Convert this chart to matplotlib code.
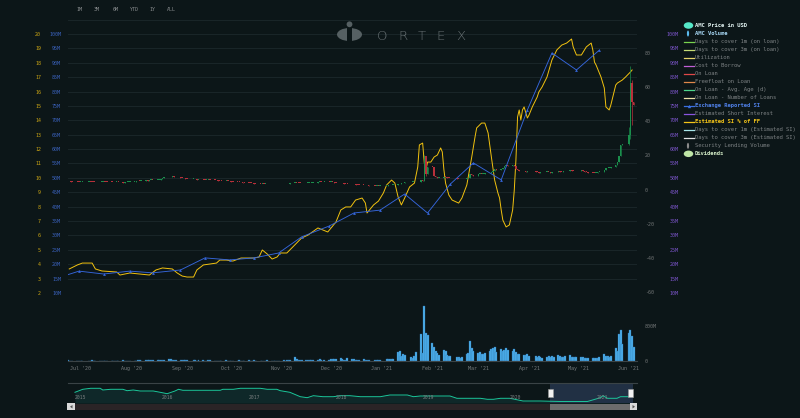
import matplotlib
matplotlib.use('Agg')
import matplotlib.pyplot as plt
import matplotlib.dates as mdates
from matplotlib.patches import Rectangle, Circle, Ellipse, Polygon
from matplotlib.lines import Line2D
import numpy as np
import pandas as pd

# ---------------- data ----------------
holidays = ['2020-07-03', '2020-09-07', '2020-11-26', '2020-12-25', '2021-01-01',
            '2021-01-18', '2021-02-15', '2021-04-02', '2021-05-31']

close_jun20 = [4.9, 4.8, 4.7, 4.6, 4.5, 4.4]
close_jul20 = [4.4, 4.5, 4.6, 4.5, 4.4, 4.3, 4.2, 4.3, 4.4, 4.6, 4.5, 4.4, 4.3, 4.2, 4.4, 4.5,
               4.3, 4.1, 4.2, 4.3, 4.4, 4.4]
close_aug20 = [4.6, 4.8, 5.0, 4.9, 5.2, 5.4, 5.3, 5.6, 5.8, 5.6, 5.7, 5.9, 6.2, 6.8, 7.4, 7.1,
               7.6, 7.9, 7.3, 7.1, 7.0]
close_sep20 = [6.8, 6.5, 6.2, 6.1, 6.2, 6.0, 5.8, 5.9, 5.7, 5.6, 5.8, 5.9, 5.7, 5.5, 5.4, 5.3,
               5.2, 5.0, 5.0, 4.9, 4.8]
close_oct20 = [4.7, 4.6, 4.5, 4.4, 4.2, 4.0, 3.9, 3.8, 3.7, 3.6, 3.5, 3.4, 3.3, 3.3, 3.2, 3.2,
               3.1, 3.0, 3.1, 3.0, 3.1, 3.2]
close_nov20 = [3.1, 3.0, 3.1, 3.3, 3.7, 4.1, 3.9, 3.8, 3.7, 3.6, 3.7, 3.8, 3.9, 4.0, 4.1, 4.3,
               4.5, 4.4, 4.6, 4.4]
close_dec20 = [4.5, 4.3, 4.0, 3.8, 3.6, 3.7, 3.5, 3.4, 3.3, 3.1, 3.0, 2.9, 2.8, 2.7, 2.6, 2.5,
               2.4, 2.3, 2.2, 2.2, 2.1, 2.1]
close_jan21 = [2.3, 2.4, 2.5, 2.6, 2.7, 3.0, 3.4, 3.6, 3.9, 4.2, 4.3, 4.4, 4.2, 4.5, 5.5, 5.0,
               19.9, 9.0, 13.5]
close_feb21 = [13.3, 7.8, 7.1, 6.8, 7.0, 7.5, 7.3, 7.0, 6.8, 6.6, 6.3, 6.2, 6.0, 6.1, 6.5, 7.0,
               9.0, 8.6, 8.0]
close_mar21 = [9.0, 9.2, 9.0, 9.3, 9.5, 10.0, 10.5, 11.0, 11.8, 11.5, 12.0, 12.5, 13.8, 14.3,
               14.1, 14.2, 13.6, 12.0, 11.2, 10.9, 10.6, 10.5, 10.8]
close_apr21 = [10.6, 10.4, 10.3, 10.0, 10.1, 10.3, 10.5, 10.2, 10.0, 10.1, 10.4, 10.7, 10.5,
               10.3, 10.6, 11.1, 11.4, 11.0, 10.8, 10.7, 10.6]
close_may21 = [11.3, 11.0, 10.5, 10.2, 10.0, 9.8, 9.6, 9.8, 10.2, 10.5, 11.5, 12.4, 12.6, 12.8,
               13.0, 14.5, 16.2, 19.6, 26.1, 26.5]
close_jun21 = [32.0, 62.6, 51.3, 49.3]

wick_override = {'2021-01-27': (20.4, 4.9), '2021-01-28': (16.5, 8.0), '2021-06-01': (36.7, 26.0),
                 '2021-06-02': (72.6, 29.5), '2021-06-03': (64.0, 38.0)}

vol_jun20 = [12, 10, 9, 11, 8, 9]
vol_jul20 = [10, 9, 8, 10, 12, 9, 8, 9, 8, 11, 9, 8, 9, 10, 8, 7, 9, 12, 10, 8, 9, 8]
vol_aug20 = [9, 10, 14, 12, 11, 13, 12, 15, 14, 18, 13, 17, 25, 30, 22, 40, 35, 28, 20, 18, 16]
vol_sep20 = [17, 15, 13, 14, 12, 13, 11, 15, 12, 10, 11, 13, 12, 10, 9, 11, 10, 9, 12, 10, 9]
vol_oct20 = [10, 11, 9, 12, 10, 9, 11, 14, 10, 9, 12, 10, 9, 8, 11, 10, 12, 9, 10, 11, 9, 10]
vol_nov20 = [12, 10, 14, 16, 28, 90, 40, 30, 25, 22, 20, 18, 24, 26, 22, 30, 35, 25, 28, 20]
vol_dec20 = [40, 35, 55, 45, 60, 38, 30, 28, 70, 50, 35, 30, 32, 28, 45, 30, 25, 22, 20, 24, 18, 20]
vol_jan21 = [35, 40, 50, 45, 55, 200, 230, 110, 170, 130, 100, 80, 110, 200, 620, 180, 1250, 640,
             600]
vol_feb21 = [420, 330, 230, 180, 140, 250, 220, 140, 120, 110, 100, 85, 80, 85, 160, 190, 460,
             300, 220]
vol_mar21 = [190, 210, 150, 160, 180, 240, 270, 290, 330, 200, 280, 240, 260, 300, 250, 230, 270,
             200, 170, 160, 140, 130, 150]
vol_apr21 = [120, 110, 95, 110, 85, 80, 95, 120, 100, 105, 90, 130, 110, 85, 95, 120, 140, 100,
             90, 85, 95]
vol_may21 = [100, 90, 80, 75, 70, 65, 60, 70, 80, 95, 150, 120, 110, 100, 115, 300, 230, 620, 720,
             400]
vol_jun21 = [640, 720, 580, 330]

# Estimated SI % of free float (yellow)
si_dates = ['2020-06-24', '2020-06-29', '2020-07-02', '2020-07-08', '2020-07-10', '2020-07-14',
            '2020-07-23', '2020-07-25', '2020-07-31', '2020-08-06', '2020-08-12', '2020-08-16',
            '2020-08-20', '2020-08-26', '2020-08-29', '2020-09-01', '2020-09-04', '2020-09-08',
            '2020-09-10', '2020-09-14', '2020-09-22', '2020-09-24', '2020-09-28', '2020-10-02',
            '2020-10-07', '2020-10-15', '2020-10-18', '2020-10-20', '2020-10-23', '2020-10-26',
            '2020-10-29', '2020-10-31', '2020-11-04', '2020-11-07', '2020-11-10', '2020-11-13',
            '2020-11-17', '2020-11-23', '2020-11-29', '2020-12-04', '2020-12-07', '2020-12-10',
            '2020-12-13', '2020-12-16', '2020-12-20', '2020-12-22', '2020-12-23', '2020-12-27',
            '2020-12-30', '2021-01-02', '2021-01-04', '2021-01-07', '2021-01-09', '2021-01-11',
            '2021-01-13', '2021-01-15', '2021-01-18', '2021-01-21', '2021-01-23', '2021-01-24',
            '2021-01-26', '2021-01-27', '2021-01-28', '2021-01-29', '2021-01-31', '2021-02-02',
            '2021-02-04', '2021-02-06', '2021-02-07', '2021-02-08', '2021-02-09', '2021-02-11',
            '2021-02-13', '2021-02-17', '2021-02-19', '2021-02-22', '2021-02-25', '2021-02-27',
            '2021-02-28', '2021-03-03', '2021-03-05', '2021-03-07', '2021-03-09', '2021-03-11',
            '2021-03-13', '2021-03-14', '2021-03-15', '2021-03-16', '2021-03-18', '2021-03-20',
            '2021-03-22', '2021-03-23', '2021-03-24', '2021-03-25', '2021-03-26', '2021-03-27',
            '2021-03-28', '2021-03-29', '2021-03-31', '2021-04-01', '2021-04-03', '2021-04-06',
            '2021-04-07', '2021-04-09', '2021-04-12', '2021-04-15', '2021-04-18', '2021-04-21',
            '2021-04-24', '2021-04-27', '2021-04-28', '2021-04-30', '2021-05-03', '2021-05-06',
            '2021-05-09', '2021-05-10', '2021-05-11', '2021-05-12', '2021-05-15', '2021-05-17',
            '2021-05-18', '2021-05-20', '2021-05-21', '2021-05-24', '2021-05-25', '2021-05-28',
            '2021-05-30', '2021-06-02', '2021-06-03']
si_pct = [3.67, 3.95, 4.08, 4.08, 3.67, 3.53, 3.46, 3.25, 3.39, 3.32, 3.25, 3.60, 3.74, 3.67,
          3.39, 3.18, 3.11, 3.11, 3.60, 3.95, 4.08, 4.29, 4.29, 4.22, 4.43, 4.43, 4.50, 4.99,
          4.71, 4.36, 4.50, 4.78, 4.78, 5.13, 5.47, 5.82,
          6.03, 6.52, 6.24, 6.93, 7.77, 7.98, 7.98, 8.46, 8.60, 8.25, 7.56, 8.12, 8.39,
          8.95, 9.51, 9.85, 9.64, 8.67, 8.12, 8.60, 9.37, 9.64, 10.76, 12.29, 12.42, 11.03,
          10.55, 11.10, 11.10,
          11.45, 11.59, 12.08, 11.80, 10.55, 9.64, 8.81, 8.46, 8.25, 8.60, 9.51, 11.45, 12.84,
          13.47,
          13.81, 13.81, 13.12, 11.45, 9.85, 8.95, 8.60, 7.77, 7.07, 6.59, 6.73, 7.77, 9.16,
          11.24, 14.23, 14.72, 14.02, 14.72, 14.93, 14.16,
          14.37, 14.93, 15.62, 15.97, 16.32, 17.01, 18.19, 18.89, 19.23, 19.37, 19.65, 19.10,
          18.54,
          18.54, 19.10, 19.37, 18.89, 18.05, 17.84, 17.01, 16.25, 14.93, 14.72, 15.06, 16.45,
          16.59, 16.80, 17.01, 17.36, 17.50]

# Exchange reported short interest (millions of shares)
exsi_dates = ['2020-06-15', '2020-06-30', '2020-07-15', '2020-07-31', '2020-08-14', '2020-08-31',
              '2020-09-15', '2020-09-30', '2020-10-15', '2020-10-30', '2020-11-13', '2020-11-30',
              '2020-12-15', '2020-12-31', '2021-01-15', '2021-01-29', '2021-02-12', '2021-02-26',
              '2021-03-15', '2021-03-31', '2021-04-15', '2021-04-30', '2021-05-14']
exsi_m = [14.9, 17.6, 16.6, 17.6, 17.0, 18.0, 22.2, 21.5, 22.2, 23.9, 29.5, 33.3, 37.8, 38.8,
          44.4, 37.8, 47.9, 55.2, 49.3, 73.6, 93.4, 87.5, 94.4]

# navigator (long history, decimal years)
nav_year = [2015.02, 2015.11, 2015.20, 2015.31, 2015.34, 2015.43, 2015.57, 2015.62, 2015.69,
            2015.77, 2015.92, 2016.00, 2016.08, 2016.17, 2016.21, 2016.26, 2016.46, 2016.69,
            2016.72, 2016.84, 2016.92, 2017.15, 2017.23, 2017.34, 2017.38, 2017.49, 2017.61,
            2017.69, 2017.76, 2017.87, 2017.99, 2018.07, 2018.18, 2018.30, 2018.53, 2018.64,
            2018.84, 2018.91, 2018.99, 2019.33, 2019.41, 2019.68, 2019.76, 2019.83, 2019.91,
            2020.02, 2020.17, 2020.37, 2020.60, 2020.91, 2021.06, 2021.09, 2021.14, 2021.25,
            2021.29, 2021.40]
nav_val = [21.4, 27.4, 29.4, 29.4, 26.0, 27.4, 27.4, 24.6, 26.0, 24.0, 24.0, 21.4, 18.6, 24.0,
           27.4, 25.4, 25.4, 25.4, 27.4, 27.4, 29.4, 29.4, 27.4, 27.4, 24.6, 21.4, 12.6, 10.6,
           14.6, 12.6, 12.6, 14.6, 14.6, 12.6, 12.6, 16.0, 16.0, 12.6, 14.0, 14.0, 9.4, 9.4,
           7.4, 7.4, 9.4, 9.4, 4.0, 4.0, 3.0, 3.0, 10.6, 14.6, 9.4, 9.4, 12.6, 12.6]

price_ticks = [-60, -40, -20, 0, 20, 40, 60, 80]
volume_ticks = [0, 800]
range_buttons = ['1M', '3M', '6M', 'YTD', '1Y', 'ALL']
legend_labels = ["AMC Price in USD", "AMC Volume", "Days to cover 1m (on loan)",
                 "Days to cover 3m (on loan)", "Utilization", "Cost to Borrow", "On Loan",
                 "Freefloat on Loan", "On Loan - Avg. Age (d)", "On Loan - Number of Loans",
                 "Exchange Reported SI", "Estimated Short Interest", "Estimated SI % of FF",
                 "Days to cover 1m (Estimated SI)", "Days to cover 3m (Estimated SI)",
                 "Security Lending Volume", "Dividends"]

# ---------------- style ----------------
W, H = 800, 418
BG = '#0c1618'
GRID = '#1a2629'
YEL = '#f2c20f'
BLUE = '#3566dc'
GREEN = '#1a8f4c'
RED = '#b8303a'
VOL = '#4fb4f0'
VOL_EDGE = '#2a6ea8'
MONO = 'DejaVu Sans Mono'
FS = 3.6

legend_style = [
    ('#56e8c8', 'blob', '#e6f7f5', True),
    ('#5bbcf0', 'vbar', '#a8d8f5', True),
    ('#79d44e', 'line', '#7d8284', False),
    ('#c6dc76', 'line', '#7d8284', False),
    ('#e6d36b', 'line', '#7d8284', False),
    ('#c25fd6', 'line', '#7d8284', False),
    ('#e04848', 'line', '#7d8284', False),
    ('#e0884a', 'line', '#7d8284', False),
    ('#4fd68c', 'line', '#7d8284', False),
    ('#efe2a8', 'line', '#7d8284', False),
    ('#3b6fe0', 'tri', '#4f80e8', True),
    ('#8a55e0', 'line', '#7d8284', False),
    ('#f5c518', 'line', '#f5c518', True),
    ('#a8e6ea', 'line', '#7d8284', False),
    ('#e0e0e0', 'line', '#7d8284', False),
    ('#8c8c8c', 'vbar', '#7d8284', False),
    ('#bfe6a6', 'blob', '#d6efc8', True),
]

fig = plt.figure(figsize=(8, 4.18), dpi=100)
fig.patch.set_facecolor(BG)


def add_px_axes(x0, y0, x1, y1):
    a = fig.add_axes([x0 / W, 1 - y1 / H, (x1 - x0) / W, (y1 - y0) / H])
    a.set_facecolor('none')
    for s in a.spines.values():
        s.set_visible(False)
    a.tick_params(length=0)
    return a


def fig_rect(x0, y0, x1, y1, fc, ec='none', lw=0, z=5):
    fig.add_artist(Rectangle((x0 / W, 1 - y1 / H), (x1 - x0) / W, (y1 - y0) / H,
                             transform=fig.transFigure, facecolor=fc, edgecolor=ec,
                             linewidth=lw, zorder=z))


X0, X1 = 68, 637
XLIM = (pd.Timestamp('2020-06-23 06:00'), pd.Timestamp('2021-06-06'))

close = (close_jun20 + close_jul20 + close_aug20 + close_sep20 + close_oct20 + close_nov20 +
         close_dec20 + close_jan21 + close_feb21 + close_mar21 + close_apr21 + close_may21 +
         close_jun21)
volume = (vol_jun20 + vol_jul20 + vol_aug20 + vol_sep20 + vol_oct20 + vol_nov20 + vol_dec20 +
          vol_jan21 + vol_feb21 + vol_mar21 + vol_apr21 + vol_may21 + vol_jun21)
days = pd.bdate_range(end='2021-06-04', periods=len(close), freq='C', holidays=holidays)

# ---------------- main panel ----------------
ax = add_px_axes(X0, 19.6, X1, 293)
ax.set_facecolor(BG)
ax.set_xlim(*XLIM)
ax.set_xticks([])
ax.set_ylim(2, 21)
ax.set_yticks(range(2, 22))
ax.set_yticklabels([str(v) for v in range(2, 21)] + [''])
ax.grid(axis='y', color=GRID, lw=0.7)
ax.tick_params(axis='y', labelcolor='#c9a414', labelsize=FS, pad=19.4)
for lab in ax.get_yticklabels():
    lab.set_family(MONO)

axb = ax.twinx()
for s in axb.spines.values():
    s.set_visible(False)
axb.set_ylim(10, 105)
axb.set_yticks(range(10, 106, 5))
axb.set_yticklabels([f'{v}M' for v in range(10, 101, 5)] + [''])
axb.yaxis.tick_left()
axb.tick_params(axis='y', length=0, labelcolor='#3a62bd', labelsize=FS, pad=5)
for lab in axb.get_yticklabels():
    lab.set_family(MONO)

axp = ax.twinx()
for s in axp.spines.values():
    s.set_visible(False)
axp.set_ylim(-60.6, 99.6)
axp.set_yticks(price_ticks)
axp.set_yticklabels([str(v) for v in price_ticks])
axp.tick_params(axis='y', length=0, labelcolor='#6f7374', labelsize=FS, pad=5.8)
for lab in axp.get_yticklabels():
    lab.set_family(MONO)

axs = ax.twinx()
for s in axs.spines.values():
    s.set_visible(False)
axs.set_ylim(10, 105)
axs.set_yticks(range(10, 106, 5))
axs.set_yticklabels([f'{v}M' for v in range(10, 101, 5)] + [''])
axs.tick_params(axis='y', length=0, labelcolor='#7c55cc', labelsize=FS, pad=30.2)
for lab in axs.get_yticklabels():
    lab.set_family(MONO)
    lab.set_horizontalalignment('right')

# candles
c = np.array(close, dtype=float)
o = np.concatenate([[c[0]], c[:-1]])
hi = np.maximum(o, c)
lo = np.minimum(o, c)
hi_w = hi.copy()
lo_w = lo.copy()
for d, (h, l) in wick_override.items():
    idx = np.where(days == pd.Timestamp(d))[0]
    if len(idx):
        hi_w[idx[0]] = h
        lo_w[idx[0]] = l
cols = np.where(c >= o, GREEN, RED)
axp.vlines(days, lo_w, hi_w, colors=cols, lw=0.5, zorder=2)
axp.bar(days, np.maximum(hi - lo, 0.45), bottom=lo, width=0.9, color=cols, linewidth=0, zorder=2)

ax.plot(pd.to_datetime(si_dates), si_pct, color=YEL, lw=0.7, zorder=3)
axs.plot(pd.to_datetime(exsi_dates), exsi_m, color=BLUE, lw=0.65, marker='^', ms=2.0,
         markeredgewidth=0, zorder=4)
axs.set_xlim(*XLIM)

# ---------------- volume panel ----------------
axv = add_px_axes(X0, 298, X1, 361)
axv.set_xlim(*XLIM)
axv.set_ylim(0, 800 * 63 / 35)
axv.bar(days, volume, width=1.2, color=VOL, edgecolor=VOL_EDGE, linewidth=0.25)
axv.yaxis.tick_right()
axv.set_yticks(volume_ticks)
axv.set_yticklabels(['0', '800M'])
axv.tick_params(axis='y', labelcolor='#6f7374', labelsize=FS, pad=5.8)
axv.spines['bottom'].set_visible(True)
axv.spines['bottom'].set_color('#3b4447')
axv.spines['bottom'].set_linewidth(0.8)
axv.xaxis.set_major_locator(mdates.MonthLocator())
axv.xaxis.set_major_formatter(mdates.DateFormatter("%b '%y"))
axv.tick_params(axis='x', labelcolor='#767b7d', labelsize=FS, pad=3.8)
for lab in axv.get_xticklabels() + axv.get_yticklabels():
    lab.set_family(MONO)

# ---------------- navigator ----------------
NAV_X = (2014.94, 2021.48)
SEL = (2020.475, 2021.43)
axn = add_px_axes(X0, 383, X1, 403)
axn.set_xlim(*NAV_X)
axn.set_ylim(0, 40)
axn.set_xticks([])
axn.set_yticks([])
axn.spines['top'].set_visible(True)
axn.spines['top'].set_color('#3a4346')
axn.spines['top'].set_linewidth(0.8)
axn.fill_between(nav_year, nav_val, 0, color='#0f2829', lw=0, zorder=1)
axn.axvspan(SEL[0], SEL[1], color='#24334a', alpha=0.9, lw=0, zorder=2)
axn.plot(nav_year, nav_val, color='#1bc79b', lw=0.7, zorder=3)
for yr in range(2015, 2022):
    axn.annotate(str(yr), (yr, 0), xytext=(1, 2.0), textcoords='offset points',
                 ha='left', va='bottom', color='#7a7f80', fontsize=3.4, family=MONO, zorder=4)

# navigator handles
for hx in (548, 628):
    fig_rect(hx, 389, hx + 5, 397, '#f2f2f2', ec='#9a9a9a', lw=0.4, z=6)

# scrollbar
fig_rect(75, 404, 630, 410, '#2a2426')
fig_rect(550, 404, 630, 410, '#6c6c6c')
fig_rect(67, 403, 75, 410, '#d9d9d9')
fig_rect(630, 403, 637, 410, '#d9d9d9')
fig.add_artist(Polygon([(72.5 / W, 1 - 405 / H), (72.5 / W, 1 - 408.5 / H), (70 / W, 1 - 406.7 / H)],
                       closed=True, transform=fig.transFigure, fc='#555', ec='none', zorder=7))
fig.add_artist(Polygon([(632.5 / W, 1 - 405 / H), (632.5 / W, 1 - 408.5 / H), (635 / W, 1 - 406.7 / H)],
                       closed=True, transform=fig.transFigure, fc='#555', ec='none', zorder=7))

# ---------------- range selector ----------------
for label, xc in zip(range_buttons, [79, 97, 116, 134, 152, 171]):
    fig.text(xc / W, 1 - 9.5 / H, label, ha='center', va='center', color='#8a8e90',
             fontsize=FS, family=MONO)

# ---------------- logo ----------------
axl = add_px_axes(335, 19, 364, 43)
axl.set_xlim(335, 364)
axl.set_ylim(43, 19)
axl.set_xticks([])
axl.set_yticks([])
LOGO = '#566063'
axl.add_patch(Ellipse((349.5, 34.5), 25, 13, fc=LOGO, ec='none'))
axl.add_patch(Rectangle((347, 27), 5, 15, fc=BG, ec='none'))
axl.add_patch(Circle((349.5, 24.3), 2.9, fc=LOGO, ec='none'))
for ch, xc in zip('ORTEX', [382.5, 402.5, 421.5, 441.0, 460.5]):
    fig.text(xc / W, 1 - 35.5 / H, ch, ha='center', va='center', color='#687174',
             fontsize=9.5, family='DejaVu Sans', fontweight='light')

# ---------------- legend ----------------
for i, (label, (col, kind, tcol, bold)) in enumerate(zip(legend_labels, legend_style)):
    yc = 1 - (25.5 + 8.02 * i) / H
    if kind == 'blob':
        fig.add_artist(Ellipse((688.5 / W, yc), 9.5 / W, 6.5 / H, transform=fig.transFigure,
                               fc=col, ec='none'))
    elif kind == 'vbar':
        fig.add_artist(Ellipse((688 / W, yc), 2.2 / W, 6 / H, transform=fig.transFigure,
                               fc=col, ec='none'))
    else:
        fig.add_artist(Line2D([683.5 / W, 693.5 / W], [yc, yc], transform=fig.transFigure,
                              color=col, lw=0.9))
        if kind == 'tri':
            fig.add_artist(Line2D([688.5 / W], [yc], transform=fig.transFigure, color=col,
                                  marker='^', ms=2.4, markeredgewidth=0, lw=0))
    fig.text(695 / W, yc, label, ha='left', va='center', color=tcol, fontsize=4.0,
             family=MONO, fontweight='bold' if bold else 'normal')

fig.savefig('out.png', dpi=100, facecolor=BG)
